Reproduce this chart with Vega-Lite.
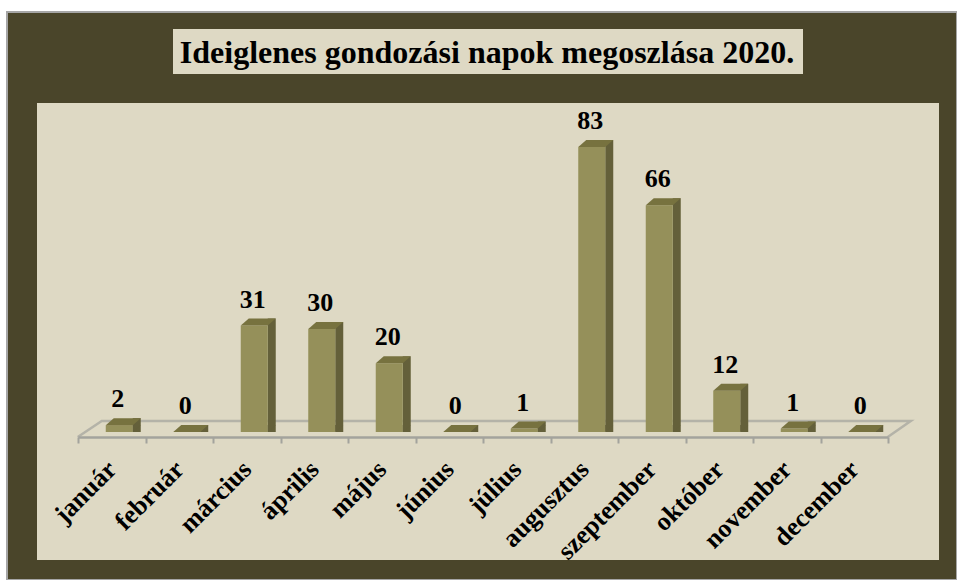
{
"$schema":"https://vega.github.io/schema/vega-lite/v6.json",
"width":950,"height":568,
"autosize":{"type":"none"},
"padding":{"left":7,"top":12,"right":0,"bottom":0},
"background":"#ffffff",
"view":{"fill":"#4a452a","stroke":"#a6a6a6","strokeWidth":2},
"title":{"text":"Ideiglenes gondozási napok megoszlása 2020.","font":"Liberation Serif","fontWeight":"bold","fontSize":32,"color":"#000000","anchor":"middle","baseline":"bottom","offset":0,"dy":90,"dx":5},
"datasets":{"months":[
{"honap":"január","nap":2},{"honap":"február","nap":0},{"honap":"március","nap":31},{"honap":"április","nap":30},{"honap":"május","nap":20},{"honap":"június","nap":0},{"honap":"július","nap":1},{"honap":"augusztus","nap":83},{"honap":"szeptember","nap":66},{"honap":"október","nap":12},{"honap":"november","nap":1},{"honap":"december","nap":0}],
"one":[{"frame":"keret"}]},
"resolve":{"scale":{"x":"independent","y":"independent"}},
"layer":[
{"data":{"name":"one"},"mark":{"type":"rect","fill":"#ded9c4"},
 "encoding":{"x":{"datum":30,"type":"quantitative","scale":{"domain":[0,950],"range":[0,950]},"axis":null},"x2":{"datum":932},"y":{"datum":91,"type":"quantitative","scale":{"domain":[0,568],"range":[0,568]},"axis":null},"y2":{"datum":548}}},
{"data":{"name":"one"},"mark":{"type":"rect","fill":"#ded9c4"},
 "encoding":{"x":{"datum":166,"type":"quantitative","scale":{"domain":[0,950],"range":[0,950]},"axis":null},"x2":{"datum":796},"y":{"datum":17,"type":"quantitative","scale":{"domain":[0,568],"range":[0,568]},"axis":null},"y2":{"datum":62}}},
{"data":{"name":"months"},
 "encoding":{
  "x":{"field":"honap","type":"nominal","sort":null,"title":null,
   "scale":{"type":"band","domain":["január","február","március","április","május","június","július","augusztus","szeptember","október","november","december"],"range":[71,881],"paddingInner":0,"paddingOuter":0},
   "axis":{"orient":"bottom","offset":-143,"zindex":1,"tickBand":"extent","domainColor":"#a3a39d","domainWidth":2.5,"tickColor":"#a3a39d","tickWidth":2,"tickSize":6,"labelAngle":-45,"labelAlign":"right","labelBaseline":"middle","labelFont":"Liberation Serif","labelFontWeight":"bold","labelFontSize":26,"labelColor":"#000000","labelPadding":22,"labelLimit":0,"labelOverlap":false,"grid":false}},
  "y":{"field":"nap","type":"quantitative","title":null,"stack":null,
   "scale":{"domain":[0,83],"range":[420,135]},"axis":null}},
 "layer":[
  {"mark":{"type":"point","filled":false,"stroke":"#a3a39d","strokeWidth":2.5,"size":4,"shape":"M-34 5L-10 -11L799 -11L776 5"},
   "transform":[{"filter":"datum.honap === 'január'"}],
   "encoding":{"y":{"datum":0,"type":"quantitative"}}},
  {"mark":{"type":"bar","fill":"#64603a","width":8,"xOffset":25,"yOffset":-7,"y2Offset":-7}},
  {"mark":{"type":"bar","fill":"#95905a","width":27,"xOffset":7.5}},
  {"mark":{"type":"point","filled":true,"fill":"#64603a","stroke":null,"size":4,"opacity":1,"shape":"M21 0L21 -7L29 -7Z"},
   "encoding":{"y":{"datum":0,"type":"quantitative"}}},
  {"mark":{"type":"point","filled":true,"fill":"#77723f","stroke":null,"size":4,"opacity":1,"shape":"M-6 0L21 0L29 -7L2 -7Z"}},
  {"mark":{"type":"text","font":"Liberation Serif","fontWeight":"bold","fontSize":26,"color":"#000000","baseline":"bottom","align":"center","dx":6,"dy":-13},
   "encoding":{"text":{"field":"nap","type":"quantitative"}}}
 ]}
]}
